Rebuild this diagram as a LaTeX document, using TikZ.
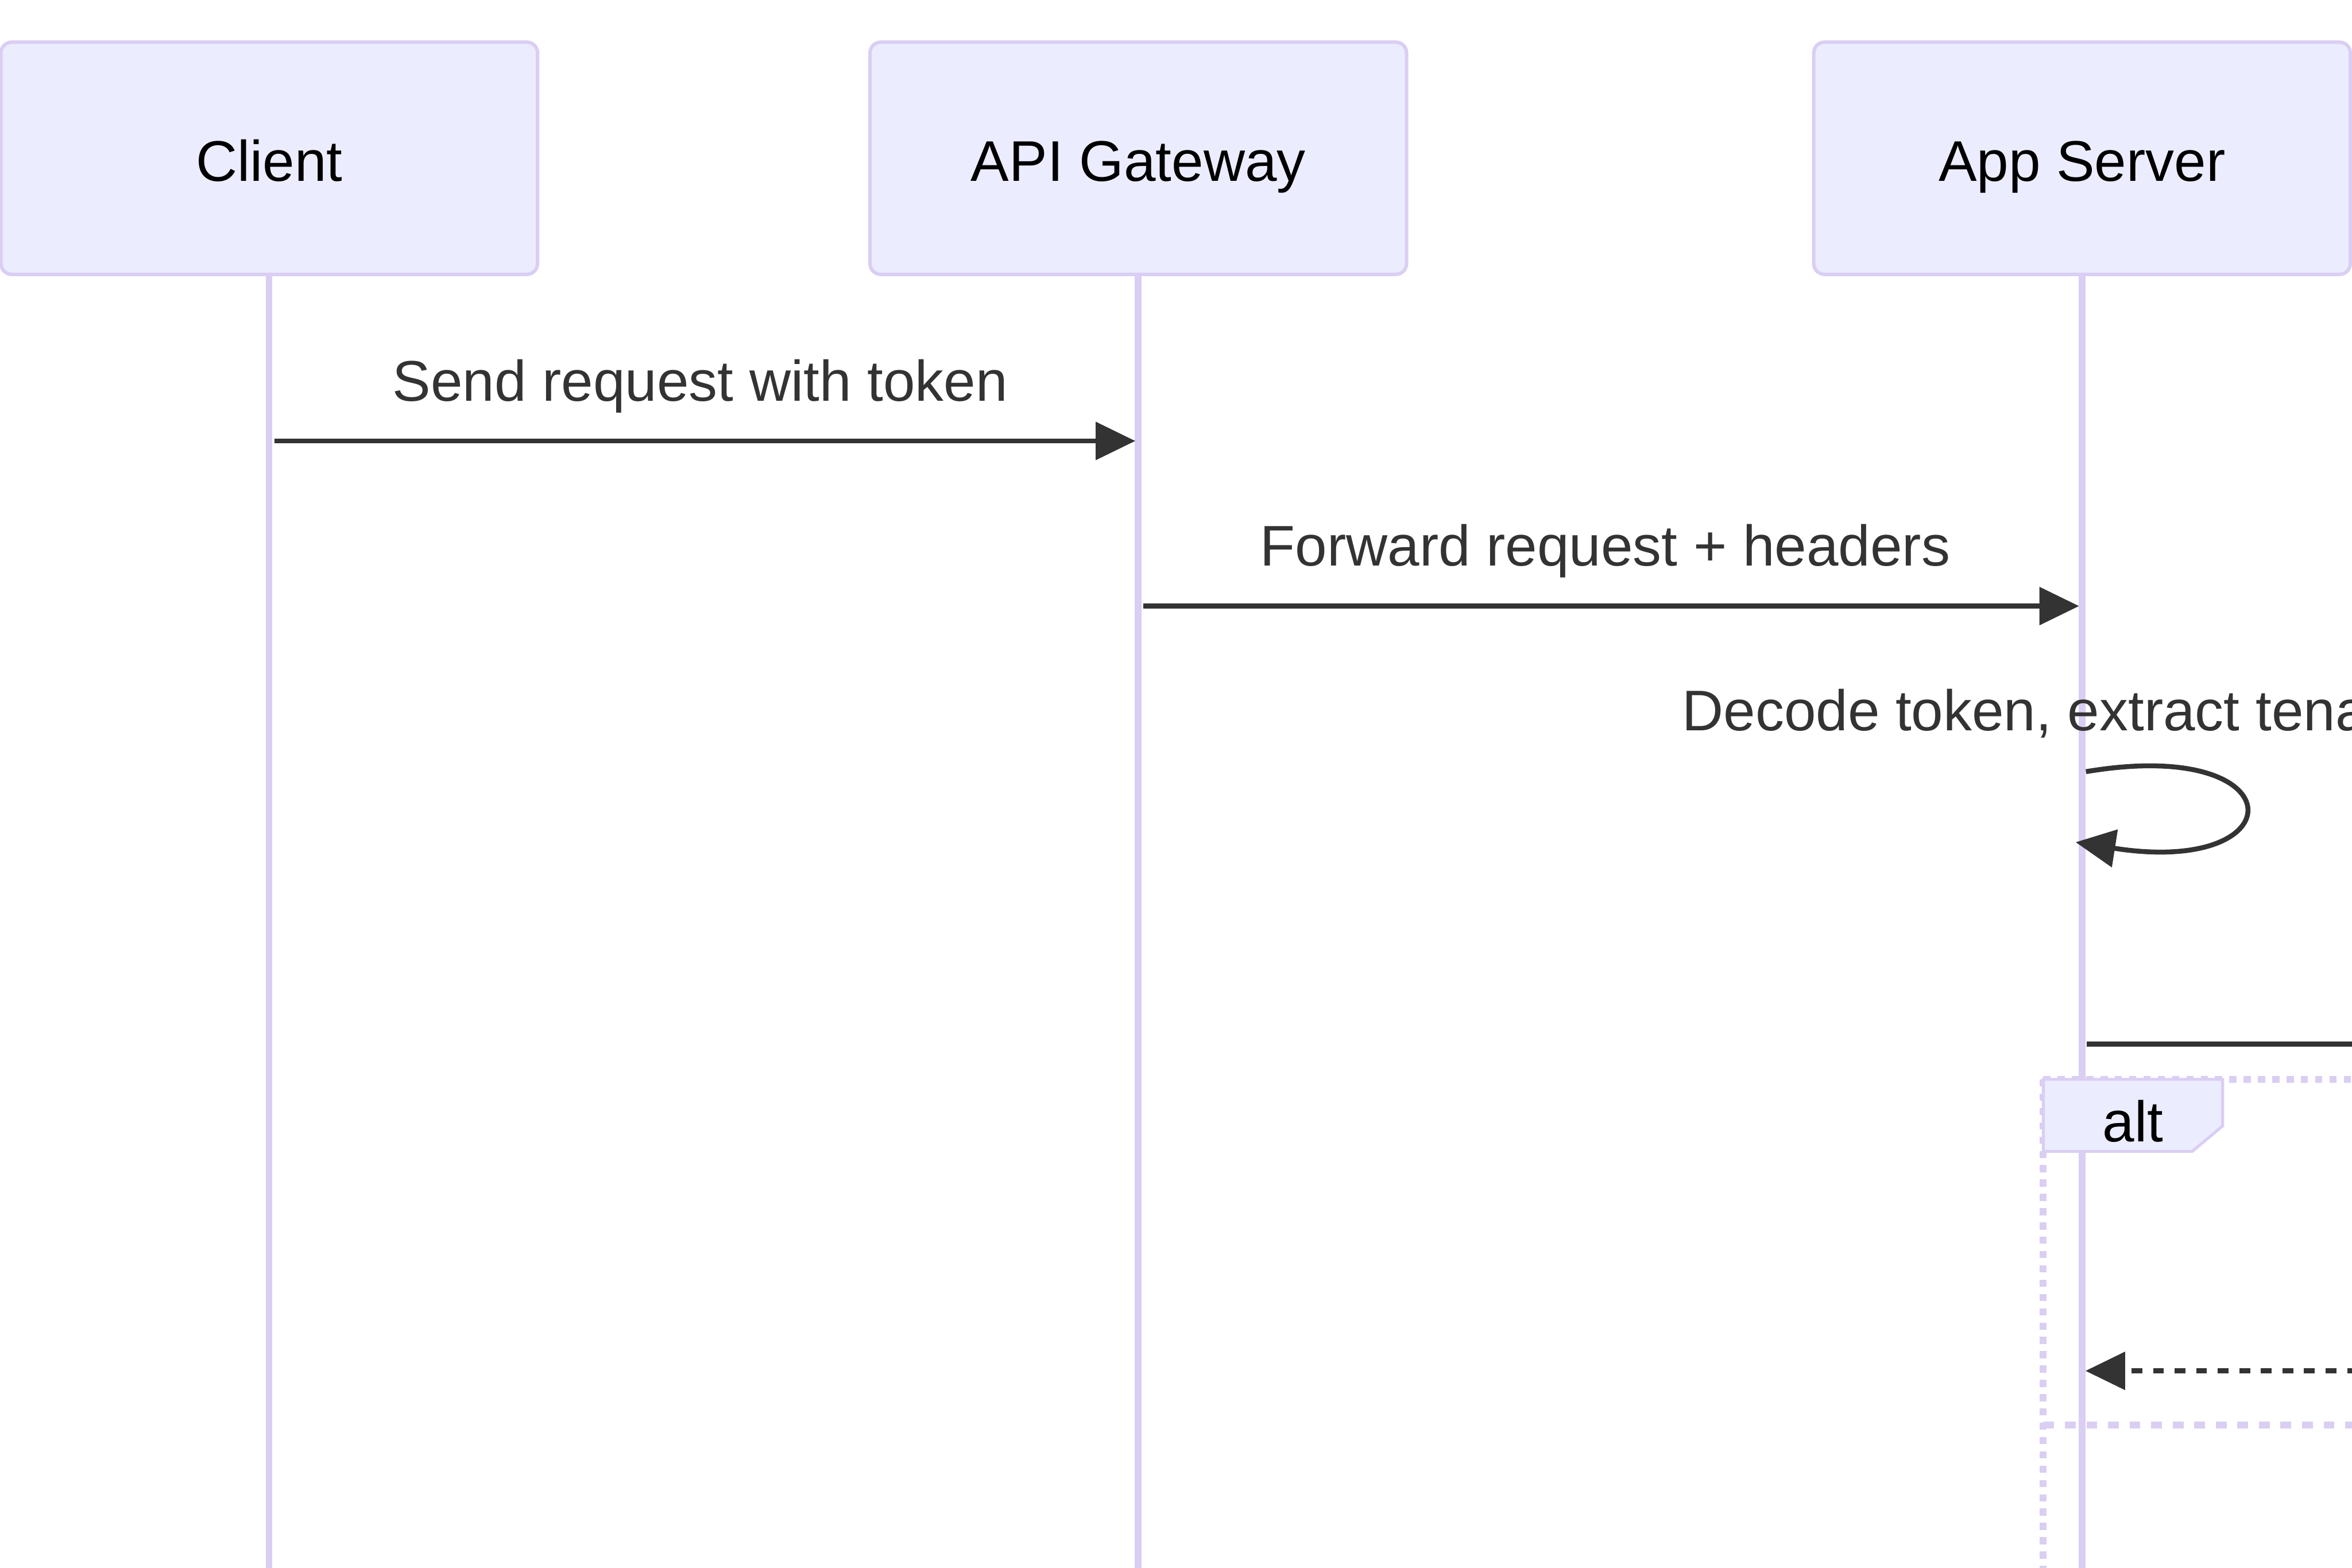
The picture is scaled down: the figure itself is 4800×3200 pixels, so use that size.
\documentclass[tikz,border=0pt]{standalone}
\usepackage{fontspec}
\setmainfont{Liberation Sans}
\usetikzlibrary{arrows.meta}
\definecolor{actfill}{HTML}{ECECFF}
\definecolor{actline}{HTML}{DACEF3}
\definecolor{ink}{HTML}{333333}
\begin{document}
\begin{tikzpicture}[x=0.2pt,y=-0.2pt,
  actorbox/.style={draw=actline, fill=actfill, line width=1.4pt, rounded corners=4.4pt,
    minimum width=219pt, minimum height=94.8pt, inner sep=0pt,
    font=\fontsize{23.4pt}{28pt}\selectfont, text=black, text height=18.8pt, text depth=0pt},
  lifeline/.style={draw=actline, line width=2.8pt},
  msg/.style={draw=ink, line width=2pt, -{Triangle[length=16.2pt,width=15.2pt]}},
  msgdash/.style={msg, dash pattern=on 4.4pt off 4.4pt},
  plainmsg/.style={draw=ink, line width=2pt},
  msgtext/.style={inner sep=0pt, font=\fontsize{23.4pt}{28pt}\selectfont, text=ink},
  loopline/.style={draw=actline, line width=2.8pt, dash pattern=on 2.92pt off 2.92pt},
  sepline/.style={draw=actline, line width=2.8pt, dash pattern=on 4.4pt off 4.4pt},
  labelbox/.style={draw=actline, fill=actfill, line width=1.2pt},
  alttext/.style={anchor=base, inner sep=0pt, font=\fontsize{23.4pt}{28pt}\selectfont, text=black},
]
\useasboundingbox (0,0) rectangle (4800,3200);
\clip (0,0) rectangle (4800,3200);
\fill[white] (0,0) rectangle (4800,3200);

% lifelines
\coordinate (cl0) at (549,560);  \coordinate (cl1) at (549,3300);
\coordinate (gw0) at (2323,560); \coordinate (gw1) at (2323,3300);
\coordinate (as0) at (4249,560); \coordinate (as1) at (4249,3300);
\draw[lifeline] (cl0) -- (cl1);
\draw[lifeline] (gw0) -- (gw1);
\draw[lifeline] (as0) -- (as1);

% actors
\node[actorbox] (client) at (549.5,323) {Client};
\node[actorbox] (gateway) at (2323,323) {API Gateway};
\node[actorbox] (appserver) at (4249,323) {App Server};

% message 1
\coordinate (m1a) at (560,900);
\coordinate (m1b) at (2317,900);
\draw[msg] (m1a) -- (m1b);
\node[msgtext, anchor=base] (t1) at (1429,818) {Send request with token};

% message 2
\coordinate (m2a) at (2333,1237);
\coordinate (m2b) at (4243,1237);
\draw[msg] (m2a) -- (m2b);
\node[msgtext, anchor=base] (t2) at (3276,1155) {Forward request + headers};

% self message
\coordinate (m3a) at (4257,1575);
\coordinate (m3b) at (4236,1719);
\draw[msg] (m3a) .. controls (4688,1502) and (4688,1790) .. (m3b);
\node[msgtext, anchor=base west] (t3) at (3432,1491) {Decode token, extract tenant};

% outgoing message to the right
\coordinate (m4a) at (4258,2131);
\coordinate (m4b) at (4900,2131);
\draw[plainmsg] (m4a) -- (m4b);

% alt frame
\coordinate (f0) at (4170,2203);
\coordinate (f1) at (4900,2203);
\coordinate (f2) at (4170,3300);
\coordinate (f3) at (4170,2908);
\coordinate (f4) at (4900,2908);
\draw[loopline] (f0) -- (f1);
\draw[loopline] (f0) -- (f2);
\draw[sepline] (f3) -- (f4);

% return message (dashed)
\coordinate (m5a) at (4900,2798);
\coordinate (m5b) at (4256,2798);
\draw[msgdash] (m5a) -- (m5b);

% alt label box
\draw[labelbox] (4170,2203) -- (4536,2203) -- (4536,2298) -- (4474,2350) -- (4170,2350) -- cycle;
\node[alttext] (alt) at (4353,2330) {alt};
\end{tikzpicture}
\end{document}
